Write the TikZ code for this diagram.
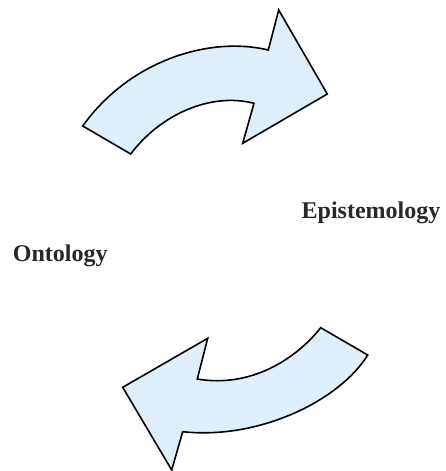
\documentclass[tikz,border=0pt]{standalone}
\usepackage{fontspec}
\setmainfont{Liberation Serif}
\definecolor{arrowfill}{RGB}{222,239,250}
\definecolor{txt}{RGB}{40,40,40}
\begin{document}
\begin{tikzpicture}[x=1pt,y=-1pt,
  bigarrow/.style={draw=black,line width=1.6pt,fill=arrowfill,line join=miter},
  label/.style={font=\fontsize{24}{28}\selectfont\bfseries,text=txt,inner sep=0pt,anchor=base west}]
\useasboundingbox (0,0) rectangle (445,471);
% top arrow
\draw[bigarrow] (82.7,126) -- (130.7,154)
  .. controls (160,115) and (210,92) .. (254,103.3)
  -- (242.7,143.3) -- (327.3,94) -- (278.7,10) -- (268.3,50)
  .. controls (210,36) and (130,60) .. cycle;
% bottom arrow
\draw[bigarrow] (320.7,327.7) -- (367.7,355)
  .. controls (340,400) and (260,440) .. (182.7,431.7)
  -- (171.7,470) -- (122.7,387.3) -- (207.7,338.3) -- (197.3,379)
  .. controls (250,388) and (295,360) .. cycle;
\node[label] (epi) at (301.5,218.3) {Epistemology};
\node[label] (onto) at (12.7,261.7) {Ontology};
\end{tikzpicture}
\end{document}
